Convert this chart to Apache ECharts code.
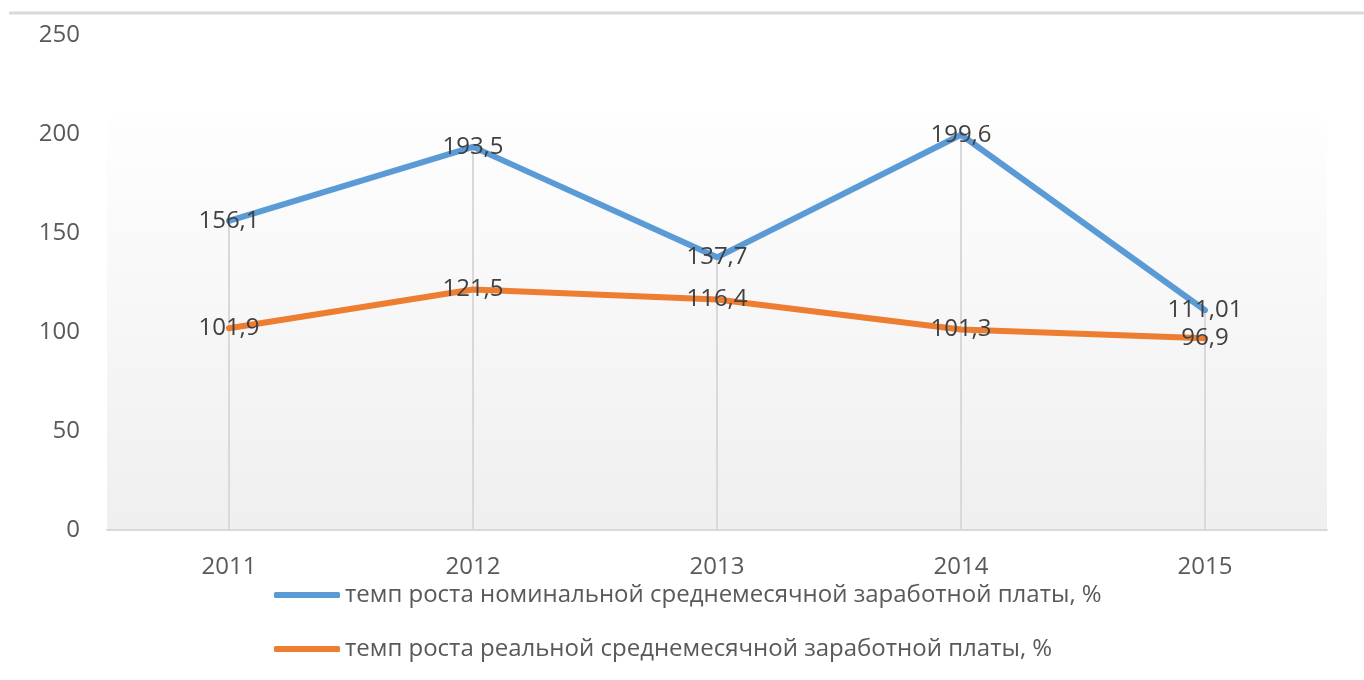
<!DOCTYPE html>
<html>
<head>
<meta charset="utf-8">
<script src="https://cdn.jsdelivr.net/npm/echarts@6/dist/echarts.min.js"></script>
<style>
  html, body { margin: 0; padding: 0; background: #ffffff; }
  #chart { width: 1364px; height: 680px; }
</style>
</head>
<body>
<div id="chart"></div>
<script>
// Годы
const years = ['2011', '2012', '2013', '2014', '2015'];
// Темп роста номинальной среднемесячной заработной платы, %
const nominalGrowth = [156.1, 193.5, 137.7, 199.6, 111.01];
// Темп роста реальной среднемесячной заработной платы, %
const realGrowth = [101.9, 121.5, 116.4, 101.3, 96.9];
// Подписи рядов
const seriesNames = [
  'темп роста номинальной среднемесячной заработной платы, %',
  'темп роста реальной среднемесячной заработной платы, %'
];

const FONT = "'Open Sans', 'Noto Sans', sans-serif";
const fmtComma = p => String(p.value).replace('.', ',');

// Вертикальные линии от верхней точки до оси
const dropLines = years.map((y, i) => {
  const top = Math.max(nominalGrowth[i], realGrowth[i]);
  return [{ coord: [i, top] }, { coord: [i, 0] }];
});

const chart = echarts.init(document.getElementById('chart'), null, { renderer: 'canvas' });

chart.setOption({
  backgroundColor: '#ffffff',
  animation: false,
  textStyle: { fontFamily: FONT },
  graphic: [
    {
      type: 'line',
      shape: { x1: 9, y1: 13, x2: 1364, y2: 13 },
      style: { stroke: '#d9d9d9', lineWidth: 3 },
      silent: true,
      z: 0
    },
    {
      type: 'rect',
      shape: { x: 107, y: 118, width: 1220, height: 412 },
      style: {
        fill: new echarts.graphic.LinearGradient(0, 0, 0, 1, [
          { offset: 0, color: '#fefefe' },
          { offset: 1, color: '#efefef' }
        ])
      },
      silent: true,
      z: 0
    }
  ],
  grid: { left: 107, right: 37, top: 35, bottom: 150, containLabel: false },
  legend: {
    orient: 'vertical',
    left: 269,
    top: 575,
    itemWidth: 66,
    itemHeight: 6,
    itemGap: 24,
    icon: 'roundRect',
    textStyle: { fontFamily: FONT, fontSize: 24, color: '#595959', lineHeight: 30 },
    data: seriesNames
  },
  xAxis: {
    type: 'category',
    data: years,
    boundaryGap: true,
    axisLine: { show: true, lineStyle: { color: '#d9d9d9', width: 2 } },
    axisTick: { show: false },
    axisLabel: { fontFamily: FONT, fontSize: 24, color: '#595959', margin: 25 },
    splitLine: { show: false }
  },
  yAxis: {
    type: 'value',
    min: 0,
    max: 250,
    interval: 50,
    axisLine: { show: false },
    axisTick: { show: false },
    axisLabel: { fontFamily: FONT, fontSize: 24, color: '#595959', margin: 27 },
    splitLine: { show: false }
  },
  series: [
    {
      name: seriesNames[0],
      type: 'line',
      data: nominalGrowth,
      color: '#5B9BD5',
      symbol: 'circle',
      symbolSize: 1,
      lineStyle: { width: 6, color: '#5B9BD5', cap: 'round', join: 'round' },
      label: {
        show: true,
        position: 'inside',
        formatter: fmtComma,
        fontFamily: FONT,
        fontSize: 24,
        color: '#404040'
      },
      markLine: {
        silent: true,
        symbol: ['none', 'none'],
        label: { show: false },
        lineStyle: { color: '#d9d9d9', width: 2, type: 'solid' },
        data: dropLines,
        z: 1
      },
      z: 3
    },
    {
      name: seriesNames[1],
      type: 'line',
      data: realGrowth,
      color: '#ED7D31',
      symbol: 'circle',
      symbolSize: 1,
      lineStyle: { width: 6, color: '#ED7D31', cap: 'round', join: 'round' },
      label: {
        show: true,
        position: 'inside',
        formatter: fmtComma,
        fontFamily: FONT,
        fontSize: 24,
        color: '#404040'
      },
      z: 3
    }
  ]
});
</script>
</body>
</html>
